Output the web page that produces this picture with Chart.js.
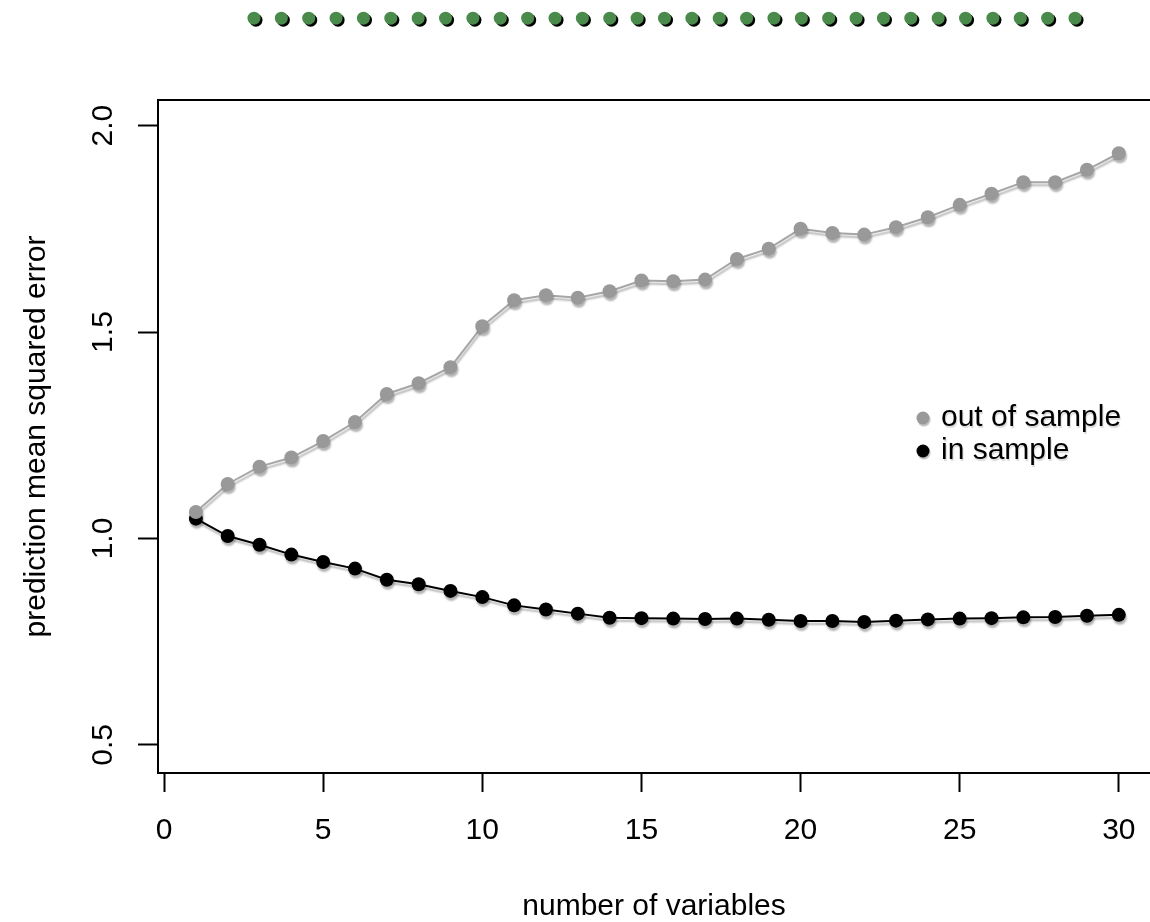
<!DOCTYPE html>
<html>
<head>
<meta charset="utf-8">
<title>Prediction error vs number of variables</title>
<script src="https://cdn.jsdelivr.net/npm/chart.js@4.4.0/dist/chart.umd.min.js"></script>
<style>
    body { margin: 0; background: #fff; }
    #wrap { position: relative; width: 1150px; height: 922px; }
    #mse, #dots { position: absolute; left: 0; top: 0; }
</style>
</head>
<body>
<div id="wrap">
    <canvas id="mse" width="1150" height="922"></canvas>
    <canvas id="dots" width="1150" height="40"></canvas>
</div>
<script>
    // number of variables in the model
    const numVars = [1, 2, 3, 4, 5, 6, 7, 8, 9, 10, 11, 12, 13, 14, 15,
        16, 17, 18, 19, 20, 21, 22, 23, 24, 25, 26, 27, 28, 29, 30];

    // prediction mean squared error
    const outSample = [1.064, 1.132, 1.174, 1.196, 1.236, 1.282, 1.350, 1.376, 1.415, 1.514,
        1.577, 1.589, 1.583, 1.599, 1.625, 1.623, 1.627, 1.677, 1.702, 1.750,
        1.740, 1.736, 1.754, 1.778, 1.808, 1.835, 1.863, 1.863, 1.893, 1.933];
    const inSample = [1.048, 1.006, 0.985, 0.961, 0.943, 0.927, 0.900, 0.889, 0.873, 0.858,
        0.838, 0.828, 0.818, 0.808, 0.807, 0.806, 0.805, 0.806, 0.803, 0.800,
        0.800, 0.798, 0.801, 0.804, 0.806, 0.807, 0.809, 0.810, 0.813, 0.815];

    const xTicks = [0, 5, 10, 15, 20, 25, 30];
    const yTicks = [0.5, 1.0, 1.5, 2.0];

    // the row of green dots above the plot
    const dotSlots = [1, 2, 3, 4, 5, 6, 7, 8, 9, 10, 11, 12, 13, 14, 15, 16,
        17, 18, 19, 20, 21, 22, 23, 24, 25, 26, 27, 28, 29, 30, 31];

    Chart.defaults.font.family = '"Liberation Sans", Arial, sans-serif';
    Chart.defaults.font.size = 30;
    Chart.defaults.color = '#000';

    function shadow(name, dx, dy, blur, color) {
        return {
            id: name,
            beforeDatasetsDraw(chart) {
                const ctx = chart.ctx;
                ctx.save();
                ctx.shadowColor = color;
                ctx.shadowOffsetX = dx;
                ctx.shadowOffsetY = dy;
                ctx.shadowBlur = blur;
            },
            afterDatasetsDraw(chart) {
                chart.ctx.restore();
            }
        };
    }

    // top side of the box (R draws a full frame)
    const boxTop = {
        id: 'boxTop',
        afterDraw(chart) {
            const {ctx, chartArea} = chart;
            ctx.save();
            ctx.strokeStyle = '#000';
            ctx.lineWidth = 2;
            ctx.beginPath();
            ctx.moveTo(chartArea.left - 1, chartArea.top);
            ctx.lineTo(chartArea.right, chartArea.top);
            ctx.stroke();
            ctx.restore();
        }
    };

    // legend drawn inside the plot, like R's legend()
    const innerLegend = {
        id: 'innerLegend',
        afterDraw(chart) {
            const ctx = chart.ctx;
            ctx.save();
            ctx.font = '30px "Liberation Sans", Arial, sans-serif';
            ctx.textBaseline = 'middle';
            ctx.textAlign = 'left';
            chart.data.datasets.forEach(function (ds, i) {
                const y = 418 + i * 33;
                ctx.shadowColor = 'rgba(0,0,0,0.25)';
                ctx.shadowOffsetX = 1;
                ctx.shadowOffsetY = 2;
                ctx.shadowBlur = 1;
                ctx.fillStyle = ds.pointBackgroundColor;
                ctx.beginPath();
                ctx.arc(923, y, 6.5, 0, Math.PI * 2);
                ctx.fill();
                ctx.shadowColor = 'rgba(0,0,0,0.15)';
                ctx.fillStyle = '#000';
                ctx.fillText(ds.label, 941, y);
            });
            ctx.restore();
        }
    };

    const mseChart = new Chart(document.getElementById('mse'), {
        type: 'line',
        data: {
            datasets: [{
                label: 'out of sample',
                data: numVars.map((v, i) => ({x: v, y: outSample[i]})),
                borderColor: '#a6a6a6',
                borderWidth: 2,
                pointRadius: 7,
                pointBackgroundColor: '#999999',
                pointBorderWidth: 0,
                tension: 0
            }, {
                label: 'in sample',
                data: numVars.map((v, i) => ({x: v, y: inSample[i]})),
                borderColor: '#000',
                borderWidth: 2,
                pointRadius: 7,
                pointBackgroundColor: '#000',
                pointBorderWidth: 0,
                tension: 0
            }]
        },
        options: {
            responsive: false,
            animation: false,
            events: [],
            layout: {autoPadding: false, padding: {top: 100, right: 0, left: 0, bottom: 0}},
            plugins: {legend: {display: false}, tooltip: {enabled: false}},
            scales: {
                x: {
                    type: 'linear',
                    min: -0.19,
                    max: 30.98,
                    afterBuildTicks: s => { s.ticks = xTicks.map(v => ({value: v})); },
                    afterFit: s => { s.height = 149; s.paddingLeft = 0; s.paddingRight = 0; },
                    border: {display: true, color: '#000', width: 2},
                    grid: {drawOnChartArea: false, tickLength: 19, tickColor: '#000', tickWidth: 2},
                    ticks: {padding: 21, minRotation: 0, maxRotation: 0, autoSkip: false, color: '#000'},
                    title: {
                        display: true, text: 'number of variables', color: '#000',
                        padding: {top: 0, bottom: 0}, font: {size: 30, lineHeight: 1}
                    }
                },
                y: {
                    type: 'linear',
                    min: 0.432,
                    max: 2.062,
                    afterBuildTicks: s => { s.ticks = yTicks.map(v => ({value: v})); },
                    afterFit: s => { s.width = 158; s.paddingTop = 0; s.paddingBottom = 0; },
                    border: {display: true, color: '#000', width: 2},
                    grid: {drawOnChartArea: false, tickLength: 20, tickColor: '#000', tickWidth: 2},
                    ticks: {
                        minRotation: 90, maxRotation: 90, crossAlign: 'center', padding: 13,
                        color: '#000', callback: v => v.toFixed(1)
                    },
                    title: {
                        display: true, text: 'prediction mean squared error', color: '#000',
                        padding: {top: 22}, font: {size: 30, lineHeight: 1}
                    }
                }
            }
        },
        plugins: [shadow('lineShadow', 1, 3, 2, 'rgba(0,0,0,0.3)'), boxTop, innerLegend]
    });

    const dotsChart = new Chart(document.getElementById('dots'), {
        type: 'scatter',
        data: {
            datasets: [{
                data: dotSlots.map(v => ({x: v, y: 0})),
                pointRadius: 6.5,
                pointBackgroundColor: '#4a8a4a',
                pointBorderWidth: 0
            }]
        },
        options: {
            responsive: false,
            animation: false,
            events: [],
            layout: {autoPadding: false, padding: 0},
            plugins: {legend: {display: false}, tooltip: {enabled: false}},
            scales: {
                x: {display: false, min: -8.28, max: 33.74},
                y: {display: false, min: -1.2, max: 1}
            }
        },
        plugins: [shadow('dotShadow', 2, 2, 0, '#000')]
    });
</script>
</body>
</html>
